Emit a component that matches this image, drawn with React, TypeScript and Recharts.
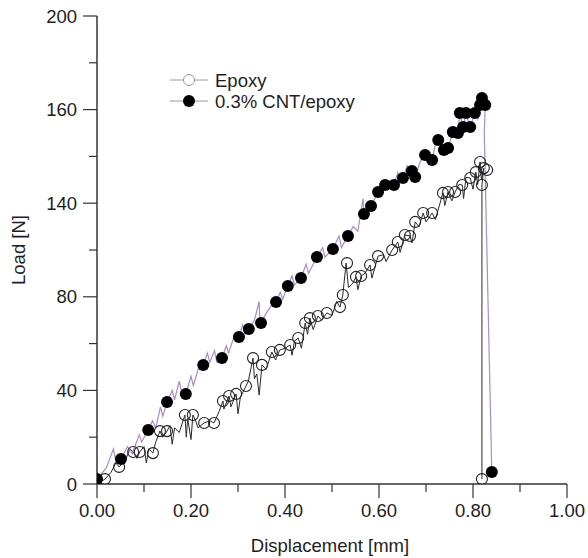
import React from 'react'
import { ComposedChart, Line, XAxis, YAxis, Label } from 'recharts'

// axis ticks (positions) and the labels printed on them
const xTicks = [0, 0.1, 0.2, 0.3, 0.4, 0.5, 0.6, 0.7, 0.8, 0.9, 1.0]
const xMajorTicks = [0, 0.2, 0.4, 0.6, 0.8, 1.0]
const xTickLabels = ['0.00', '0.20', '0.40', '0.60', '0.80', '1.00']
const yTicks = [0, 20, 40, 60, 80, 100, 120, 140, 160, 180, 200]
const yMajorTicks = [0, 40, 80, 120, 160, 200]
const yTickLabels = ['0', '40', '80', '140', '160', '200']

const seriesNames = ['Epoxy', '0.3% CNT/epoxy']

// Epoxy: continuous trace + open circle markers  [displacement, load]
const epoxyTrace = [
  [0, 0], [0.017, 2.1], [0.03, 5], [0.04, 9], [0.047, 7.3], [0.06, 10], [0.07, 15], [0.077, 13.7],
  [0.085, 11], [0.091, 13.7], [0.1, 16], [0.105, 9], [0.11, 15], [0.119, 13.2], [0.125, 18],
  [0.134, 22.6], [0.14, 20], [0.149, 22.6], [0.155, 25], [0.16, 17], [0.165, 24], [0.175, 22],
  [0.187, 29.5], [0.19, 20], [0.193, 28], [0.2, 19], [0.204, 29.5], [0.21, 27], [0.215, 24],
  [0.228, 26.1], [0.24, 27], [0.249, 26.1], [0.26, 31], [0.268, 35.5], [0.27, 32], [0.281, 37.6],
  [0.285, 33], [0.296, 38.5], [0.3, 30], [0.305, 37], [0.317, 41.9], [0.322, 44], [0.332, 53.8],
  [0.335, 45], [0.34, 47], [0.345, 38], [0.351, 50.9], [0.36, 49], [0.372, 56.4], [0.38, 53],
  [0.389, 57.3], [0.4, 58], [0.411, 59.4], [0.415, 55], [0.42, 61], [0.428, 62.4], [0.435, 58],
  [0.443, 68.8], [0.448, 64], [0.453, 70.9], [0.46, 66], [0.47, 71.8], [0.478, 70], [0.489, 73.1],
  [0.5, 72], [0.51, 78], [0.517, 75.6], [0.523, 80.8], [0.53, 94.4], [0.535, 84], [0.545, 86],
  [0.551, 88.5], [0.555, 83], [0.562, 88.9], [0.57, 90], [0.581, 93.6], [0.585, 88], [0.598, 97.4],
  [0.61, 98], [0.615, 95], [0.628, 100], [0.64, 103.4], [0.645, 99], [0.655, 106.4], [0.666, 106],
  [0.67, 103], [0.677, 112], [0.685, 110], [0.694, 115.8], [0.7, 112], [0.713, 115.8], [0.72, 113],
  [0.736, 124.4], [0.74, 119], [0.747, 124.8], [0.755, 121], [0.762, 124.8], [0.77, 128],
  [0.777, 127.8], [0.78, 122], [0.785, 131], [0.794, 130.8], [0.8, 126], [0.806, 133.3], [0.81, 128],
  [0.815, 137.6], [0.818, 130], [0.823, 135], [0.819, 127.8], [0.819, 2.1],
]

const epoxyMarkers = [
  [0.017, 2.1], [0.047, 7.3], [0.077, 13.7], [0.091, 13.7], [0.119, 13.2], [0.134, 22.6],
  [0.149, 22.6], [0.187, 29.5], [0.204, 29.5], [0.228, 26.1], [0.249, 26.1], [0.268, 35.5],
  [0.281, 37.6], [0.296, 38.5], [0.317, 41.9], [0.332, 53.8], [0.351, 50.9], [0.372, 56.4],
  [0.389, 57.3], [0.411, 59.4], [0.428, 62.4], [0.443, 68.8], [0.453, 70.9], [0.47, 71.8],
  [0.489, 73.1], [0.517, 75.6], [0.523, 80.8], [0.532, 94.4], [0.551, 88.5], [0.562, 88.9],
  [0.581, 93.6], [0.598, 97.4], [0.628, 100], [0.64, 103.4], [0.655, 106.4], [0.666, 106],
  [0.677, 112], [0.694, 115.8], [0.713, 115.8], [0.736, 124.4], [0.747, 124.8], [0.762, 124.8],
  [0.777, 127.8], [0.794, 130.8], [0.806, 133.3], [0.815, 137.6], [0.823, 135], [0.83, 134.2],
  [0.819, 127.8], [0.819, 2.1],
]

// 0.3% CNT/epoxy: purple trace + filled markers
const cntTrace = [
  [0, 2], [0.02, 7], [0.035, 15], [0.04, 10], [0.051, 10.7], [0.065, 16], [0.075, 13], [0.09, 21],
  [0.095, 18], [0.109, 23.1], [0.118, 27], [0.125, 24], [0.135, 33], [0.14, 29], [0.149, 35],
  [0.16, 40], [0.165, 36], [0.175, 44], [0.18, 39], [0.189, 38.5], [0.2, 46], [0.205, 42],
  [0.215, 49], [0.226, 50.9], [0.235, 56], [0.24, 52], [0.25, 57], [0.255, 52], [0.266, 53.8],
  [0.275, 59], [0.28, 56], [0.29, 62], [0.302, 62.8], [0.31, 68], [0.315, 64], [0.323, 66.2],
  [0.335, 70], [0.345, 78], [0.347, 68], [0.349, 68.8], [0.36, 73], [0.37, 76], [0.381, 77.8],
  [0.39, 82], [0.395, 79], [0.406, 84.6], [0.415, 89], [0.42, 85], [0.434, 88], [0.445, 94],
  [0.45, 90], [0.468, 97], [0.48, 101], [0.485, 97], [0.502, 100.4], [0.515, 106], [0.52, 101],
  [0.534, 106], [0.545, 110], [0.555, 108], [0.566, 122], [0.568, 115.4], [0.583, 118.8],
  [0.598, 124.8], [0.605, 129], [0.61, 126], [0.613, 127.8], [0.632, 127.8], [0.64, 133],
  [0.645, 129], [0.651, 130.8], [0.66, 136], [0.67, 133.8], [0.677, 131.2], [0.688, 138],
  [0.698, 140.6], [0.713, 138.5], [0.72, 145], [0.726, 147], [0.738, 142.7], [0.747, 143.6],
  [0.757, 150.4], [0.768, 150], [0.772, 158.5], [0.779, 152.6], [0.785, 158.5], [0.794, 152.6],
  [0.804, 158.5], [0.81, 156], [0.815, 162], [0.819, 165], [0.826, 162], [0.824, 150], [0.84, 5.1],
]

const cntMarkers = [
  [0, 2.1], [0.051, 10.7], [0.109, 23.1], [0.149, 35], [0.189, 38.5], [0.226, 50.9], [0.266, 53.8],
  [0.302, 62.8], [0.323, 66.2], [0.349, 68.8], [0.381, 77.8], [0.406, 84.6], [0.434, 88],
  [0.468, 97], [0.502, 100.4], [0.534, 106], [0.568, 115.4], [0.583, 118.8], [0.598, 124.8],
  [0.613, 127.8], [0.632, 127.8], [0.651, 130.8], [0.67, 133.8], [0.677, 131.2], [0.698, 140.6],
  [0.713, 138.5], [0.726, 147], [0.738, 142.7], [0.747, 143.6], [0.757, 150.4], [0.768, 150],
  [0.772, 158.5], [0.779, 152.6], [0.785, 158.5], [0.794, 152.6], [0.804, 158.5], [0.815, 162],
  [0.819, 165], [0.826, 162], [0.84, 5.1],
]

const toRows = (pts: number[][]) => pts.map(([x, y]) => ({ x, y }))

const FONT = '"Liberation Sans", Arial, sans-serif'
const FS = 18.5
const INK = '#1e1e1e'
const AXIS = '#333'

const XTick = ({ x, y, payload }: any) => {
  const idx = xMajorTicks.findIndex(m => Math.abs(m - payload.value) < 1e-6)
  const major = idx >= 0
  return (
    <g>
      <line x1={x} x2={x} y1={y} y2={y + (major ? 14 : 8)} stroke={AXIS} strokeWidth={1.2} />
      {major && (
        <text x={x} y={y + 33} textAnchor="middle" fontSize={FS} fontFamily={FONT} fill={INK}>
          {xTickLabels[idx]}
        </text>
      )}
    </g>
  )
}

const YTick = ({ x, y, payload }: any) => {
  const idx = yMajorTicks.findIndex(m => Math.abs(m - payload.value) < 1e-6)
  const major = idx >= 0
  return (
    <g>
      <line x1={x - (major ? 14 : 8)} x2={x} y1={y} y2={y} stroke={AXIS} strokeWidth={1.2} />
      {major && (
        <text x={x - 20} y={y + 6.5} textAnchor="end" fontSize={FS} fontFamily={FONT} fill={INK}>
          {yTickLabels[idx]}
        </text>
      )}
    </g>
  )
}

function LegendBox() {
  return (
    <svg width={260} height={50} style={{ position: 'absolute', left: 160, top: 66 }}>
      <line x1={10} x2={48} y1={14} y2={14} stroke="#9a9a9a" strokeWidth={1} />
      <circle cx={29} cy={14} r={5.5} fill="#fff" stroke="#9a9a9a" strokeWidth={1} />
      <text x={55} y={20.5} fontSize={FS} fontFamily={FONT} fill={INK}>{seriesNames[0]}</text>
      <line x1={10} x2={48} y1={35} y2={35} stroke="#9a9a9a" strokeWidth={1} />
      <circle cx={29} cy={35} r={6} fill="#000" />
      <text x={55} y={41.5} fontSize={FS} fontFamily={FONT} fill={INK}>{seriesNames[1]}</text>
    </svg>
  )
}

export default function App() {
  return (
    <div style={{ position: 'absolute', left: 0, top: 0, width: 588, height: 558, background: '#fff' }}>
      <ComposedChart width={588} height={558} margin={{ top: 16, right: 21, bottom: 0, left: 0 }}>
        <XAxis
          type="number"
          dataKey="x"
          domain={[0, 1]}
          ticks={xTicks}
          interval={0}
          height={74}
          tickSize={0}
          tickMargin={0}
          tickLine={false}
          tick={<XTick />}
          axisLine={{ stroke: AXIS, strokeWidth: 1.5 }}
          allowDataOverflow
        >
          <Label
            content={({ viewBox }: any) => (
              <text
                x={viewBox.x + viewBox.width / 2 - 2}
                y={viewBox.y + 68}
                textAnchor="middle"
                fontSize={FS}
                fontFamily={FONT}
                fill={INK}
              >
                Displacement [mm]
              </text>
            )}
          />
        </XAxis>
        <YAxis
          type="number"
          dataKey="y"
          domain={[0, 200]}
          ticks={yTicks}
          interval={0}
          width={97}
          tickSize={0}
          tickMargin={0}
          tickLine={false}
          tick={<YTick />}
          axisLine={{ stroke: AXIS, strokeWidth: 1.5 }}
          allowDataOverflow
        >
          <Label
            content={({ viewBox }: any) => {
              const cx = viewBox.x + 18
              const cy = viewBox.y + viewBox.height / 2
              return (
                <text
                  x={cx}
                  y={cy}
                  transform={`rotate(-90 ${cx} ${cy})`}
                  textAnchor="middle"
                  dominantBaseline="central"
                  fontSize={FS}
                  fontFamily={FONT}
                  fill={INK}
                >
                  Load [N]
                </text>
              )
            }}
          />
        </YAxis>
        <Line
          data={toRows(epoxyTrace)}
          dataKey="y"
          stroke="#2a2a2a"
          strokeWidth={1}
          dot={false}
          activeDot={false}
          isAnimationActive={false}
        />
        <Line
          data={toRows(cntTrace)}
          dataKey="y"
          stroke="#a88ccc"
          strokeWidth={1.2}
          dot={false}
          activeDot={false}
          isAnimationActive={false}
        />
        <Line
          data={toRows(epoxyMarkers)}
          dataKey="y"
          stroke="none"
          dot={{ r: 5.5, fill: 'none', stroke: '#222', strokeWidth: 1.1 }}
          activeDot={false}
          isAnimationActive={false}
        />
        <Line
          data={toRows(cntMarkers)}
          dataKey="y"
          stroke="none"
          dot={{ r: 6, fill: '#000', stroke: '#000', strokeWidth: 0 }}
          activeDot={false}
          isAnimationActive={false}
        />
      </ComposedChart>
      <LegendBox />
    </div>
  )
}
